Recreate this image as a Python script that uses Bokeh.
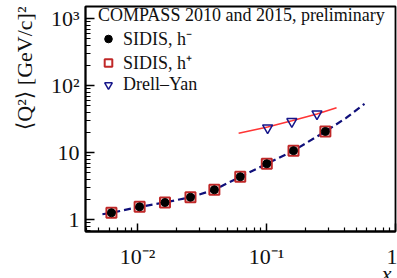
import math
from bokeh.plotting import figure
from bokeh.models import (Range1d, FixedTicker, CustomJSTickFormatter, Legend,
                          LegendItem, Title)
from bokeh.embed import file_html
from bokeh.resources import INLINE

# ---- data ----
x_sidis = [0.00626, 0.01036, 0.01629, 0.02569, 0.03936, 0.0625, 0.1004, 0.1618, 0.2858]
q2_hminus = [1.27, 1.56, 1.81, 2.17, 2.80, 4.38, 6.85, 10.75, 20.8]
q2_hplus = [1.27, 1.56, 1.81, 2.17, 2.80, 4.38, 6.85, 10.75, 20.8]

x_dy = [0.1019, 0.157, 0.246]
q2_dy = [23.6, 29.3, 38.2]

x_dy_fit = [0.0607, 0.1019, 0.157, 0.246, 0.349]
q2_dy_fit = [19.6, 24.2, 30.0, 38.0, 46.9]

x_sidis_fit = [0.00533, 0.00626, 0.01036, 0.01629, 0.02569, 0.03936, 0.0625,
               0.1004, 0.1618, 0.2858, 0.412, 0.575]
q2_sidis_fit = [1.21, 1.27, 1.56, 1.81, 2.17, 2.80, 4.38, 6.85, 10.75, 20.8, 32.9, 53.9]

x_ticks = [0.01, 0.1, 1.0]
x_tick_labels = ["10\u207b\u00b2", "10\u207b\u00b9", "1"]
y_ticks = [1.0, 10.0, 100.0, 1000.0]
y_tick_labels = ["1", "10", "10\u00b2", "10\u00b3"]

x_minor = [m * 10.0 ** e for e in (-3, -2, -1) for m in range(2, 10) if m * 10.0 ** e > 0.0039]
y_minor = [m * 10.0 ** e for e in (-1, 0, 1, 2) for m in range(2, 10) if m * 10.0 ** e > 0.66]

FONT = "Liberation Serif"
FONT_MATH = "Liberation Serif, DejaVu Sans"

p = figure(width=397, height=278, x_axis_type="log", y_axis_type="log",
           x_range=Range1d(0.00394, 1.0), y_range=Range1d(0.668, 1526),
           output_backend="svg", toolbar_location=None,
           min_border_left=84, min_border_right=2, min_border_top=6,
           min_border_bottom=47)
p.grid.visible = False
p.outline_line_color = "black"
p.outline_line_width = 1.8
p.outline_line_alpha = 1.0
p.background_fill_color = "white"
p.border_fill_color = "white"

fmt_code = """
const lt = Math.log10(tick);
for (let i = 0; i < tvals.length; i++) {
  if (Math.abs(Math.log10(tvals[i]) - lt) < 1e-6) return tlabs[i];
}
return "";
"""

xa = p.xaxis[0]
xa.ticker = FixedTicker(ticks=x_ticks, minor_ticks=x_minor)
xa.formatter = CustomJSTickFormatter(args=dict(tvals=x_ticks, tlabs=x_tick_labels), code=fmt_code)
xa.major_tick_in = 8
xa.major_tick_out = 0
xa.minor_tick_in = 4
xa.minor_tick_out = 0
xa.major_label_standoff = 12

ya = p.yaxis[0]
ya.ticker = FixedTicker(ticks=y_ticks, minor_ticks=y_minor)
ya.formatter = CustomJSTickFormatter(args=dict(tvals=y_ticks, tlabs=y_tick_labels), code=fmt_code)
ya.major_tick_in = 9
ya.major_tick_out = 0
ya.minor_tick_in = 5
ya.minor_tick_out = 0
ya.major_label_standoff = 6

for ax in (xa, ya):
    ax.axis_line_width = 1.8
    ax.axis_line_color = "black"
    ax.major_tick_line_width = 1.5
    ax.minor_tick_line_width = 1.2
    ax.major_label_text_font = FONT
    ax.major_label_text_font_size = "22px"
    ax.major_label_text_color = "#111111"

# axis titles placed at the axis ends
ytitle = Title(text="\u27e8Q\u00b2\u27e9 [GeV/c]\u00b2", align="right",
               vertical_align="middle", offset=0, standoff=20,
               text_font=FONT_MATH, text_font_size="22px",
               text_font_style="normal", text_color="#111111")
p.add_layout(ytitle, "left")
xtitle = Title(text="x", align="right", vertical_align="middle", offset=4,
               standoff=-24, text_font=FONT, text_font_size="22px",
               text_font_style="italic", text_color="#111111")
p.add_layout(xtitle, "below")

# curves
p.line(x_sidis_fit, q2_sidis_fit, line_color="#10107a", line_width=2.2, line_dash="7 4")
p.line(x_dy_fit, q2_dy_fit, line_color="#ff3535", line_width=1.6)

# markers
sq = p.scatter(x_sidis, q2_hplus, marker="square", size=10, fill_color=None,
               line_color="#c02828", line_width=2)
ci = p.scatter(x_sidis, q2_hminus, marker="circle", size=8, fill_color="black",
               line_color="black")
tr = p.scatter(x_dy, q2_dy, marker="inverted_triangle", size=10, fill_color=None,
               line_color="#16168a", line_width=1.5)

legend = Legend(items=[LegendItem(label="SIDIS, h\u207b", renderers=[ci]),
                       LegendItem(label="SIDIS, h\u207a", renderers=[sq]),
                       LegendItem(label="Drell\u2013Yan", renderers=[tr])],
                title="COMPASS 2010 and 2015, preliminary",
                location=(13, 136))
legend.border_line_color = None
legend.background_fill_alpha = 0
legend.padding = 0
legend.margin = 0
legend.glyph_width = 20
legend.glyph_height = 19
legend.label_height = 19
legend.spacing = -2
legend.label_standoff = 5
legend.title_standoff = -9
legend.label_text_font = FONT
legend.label_text_font_size = "18px"
legend.title_text_font = FONT
legend.title_text_font_size = "18px"
legend.title_text_font_style = "normal"
legend.label_text_color = "#111111"
legend.title_text_color = "#111111"
p.add_layout(legend)

open("out.html", "w").write(file_html(p, INLINE))
